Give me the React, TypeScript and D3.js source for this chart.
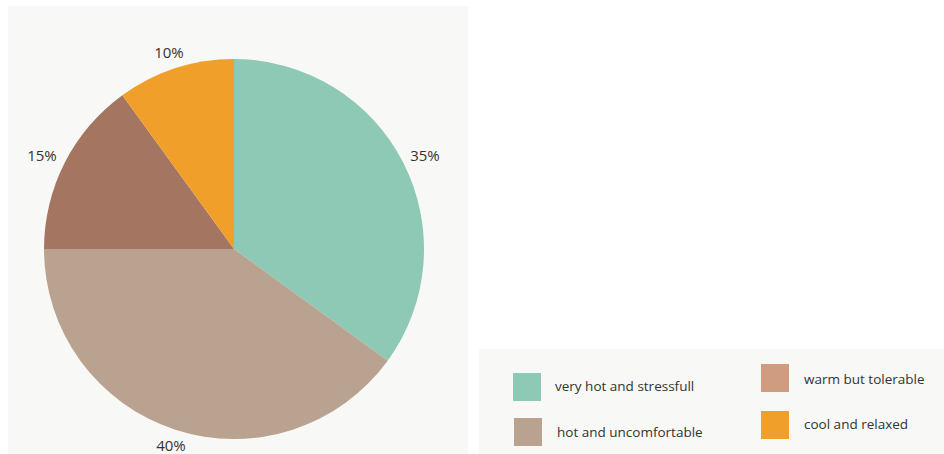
import React from "react";
import * as d3 from "d3";

const categories = ["very hot and stressfull", "hot and uncomfortable", "warm but tolerable", "cool and relaxed"];
const values = [35, 40, 15, 10];
const sliceColors = ["#8dc9b4", "#b9a290", "#a47662", "#f0a02a"];
const legendColors = ["#8dc9b4", "#b9a290", "#d09c80", "#f0a02a"];
const labels = ["35%", "40%", "15%", "10%"];

export default function App() {
  const W = 944, H = 454;
  const cx = 234, cy = 249, r = 190;
  const pie = d3.pie<number>().sort(null).value((d) => d)(values);
  const arc = d3.arc<d3.PieArcDatum<number>>().innerRadius(0).outerRadius(r);
  const labelPos = [
    [425, 161], [171, 451], [42, 161], [169, 58],
  ];
  const legendItems = [
    { x: 513, y: 373, tx: 555, ty: 391 },
    { x: 514, y: 418, tx: 557, ty: 437 },
    { x: 761, y: 364, tx: 804, ty: 384 },
    { x: 761, y: 411, tx: 804, ty: 429 },
  ];
  return (
    <svg width={W} height={H} style={{ position: "absolute", left: 0, top: 0 }}
      fontFamily="'Open Sans', Lato, sans-serif">
      <rect x={0} y={0} width={W} height={H} fill="#ffffff" />
      <rect x={8} y={6} width={460} height={448} fill="#f8f8f6" />
      <rect x={479} y={349} width={465} height={105} fill="#f8f8f6" />
      <g transform={`translate(${cx},${cy})`}>
        {pie.map((p, i) => (
          <path key={i} d={arc(p) || ""} fill={sliceColors[i]} />
        ))}
      </g>
      {labels.map((l, i) => (
        <text key={i} x={labelPos[i][0]} y={labelPos[i][1]} textAnchor="middle"
          fontSize={15} fill="#333">{l}</text>
      ))}
      {categories.map((c, i) => (
        <g key={c}>
          <rect x={legendItems[i].x} y={legendItems[i].y} width={28} height={28} fill={legendColors[i]} />
          <text x={legendItems[i].tx} y={legendItems[i].ty} fontSize={13.5} fill="#333">{c}</text>
        </g>
      ))}
    </svg>
  );
}
